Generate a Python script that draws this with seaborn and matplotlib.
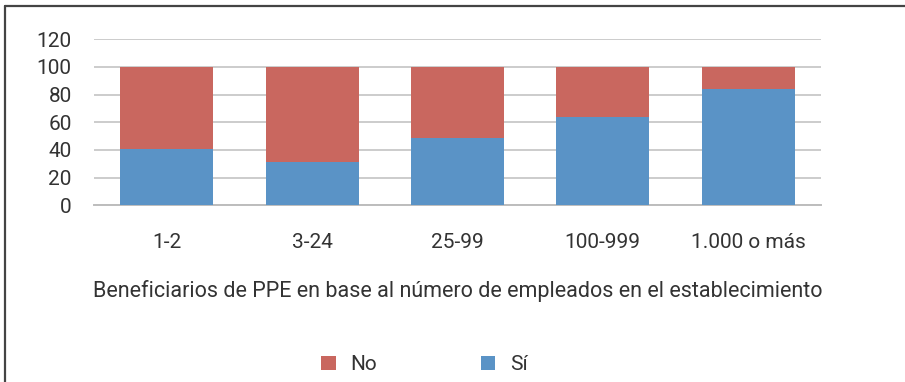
import matplotlib
matplotlib.use("Agg")
import matplotlib.pyplot as plt
from matplotlib import font_manager
from matplotlib.patches import Patch
from matplotlib.lines import Line2D
import seaborn as sns
import pandas as pd

categories = ["1-2", "3-24", "25-99", "100-999", "1.000 o más"]
si_values = [41, 31, 49, 64, 84]
no_values = [59, 69, 51, 36, 16]
y_ticks = [0, 20, 40, 60, 80, 100, 120]
x_title = "Beneficiarios de PPE en base al número de empleados en el establecimiento"
series_names = ["No", "Sí"]

RED = "#C9675F"
BLUE = "#5A93C6"
GRID = "#C4C4C4"
TEXT = "#333333"

sns.set_theme(style="white")
available = {f.name for f in font_manager.fontManager.ttflist}
family = [f for f in ["Liberation Sans Narrow", "DejaVu Sans Condensed", "Roboto"] if f in available]
plt.rcParams["font.family"] = family + ["DejaVu Sans"]

df = pd.DataFrame({"cat": categories, "si": si_values,
                   "total": [s + n for s, n in zip(si_values, no_values)]})

fig = plt.figure(figsize=(9.05, 3.82), dpi=100)
ax = fig.add_axes([0.1039, 0.4626, 0.8030, 0.4345])

sns.barplot(data=df, x="cat", y="total", color=RED, saturation=1, width=0.64,
            edgecolor="none", ax=ax, zorder=2)
sns.barplot(data=df, x="cat", y="si", color=BLUE, saturation=1, width=0.64,
            edgecolor="none", ax=ax, zorder=3)

ax.set_ylim(0, 120)
ax.set_xlim(-0.5, len(categories) - 0.5)
ax.set_yticks(y_ticks)
ax.yaxis.grid(True, color=GRID, linewidth=1.2, zorder=0)
ax.set_axisbelow(True)
for side in ["top", "right", "left"]:
    ax.spines[side].set_visible(False)
ax.spines["bottom"].set_color("#BDBDBD")
ax.spines["bottom"].set_linewidth(1.4)
ax.tick_params(axis="y", length=0, pad=16, labelsize=15, labelcolor=TEXT)
ax.tick_params(axis="x", length=0, pad=20, labelsize=15, labelcolor=TEXT)
ax.set_ylabel("")
ax.set_xlabel(x_title, fontsize=15.5, color=TEXT, labelpad=20)

handles = [Patch(facecolor=RED, edgecolor="none"), Patch(facecolor=BLUE, edgecolor="none")]
fig.legend(handles, series_names, loc="center", bbox_to_anchor=(0.469, 0.045),
           ncol=2, frameon=False, fontsize=15, handlelength=0.7, handleheight=0.7,
           handletextpad=0.7, columnspacing=4.95, labelcolor=TEXT)

# frame lines along the top and left edges of the figure
fig.add_artist(Line2D([5 / 905, 1.0], [1 - 5.5 / 382, 1 - 5.5 / 382],
                      transform=fig.transFigure, color="#444444", linewidth=1.6))
fig.add_artist(Line2D([5 / 905, 5 / 905], [0.0, 1 - 5.5 / 382],
                      transform=fig.transFigure, color="#444444", linewidth=1.6))

fig.savefig("out.png", dpi=100, facecolor="white")
